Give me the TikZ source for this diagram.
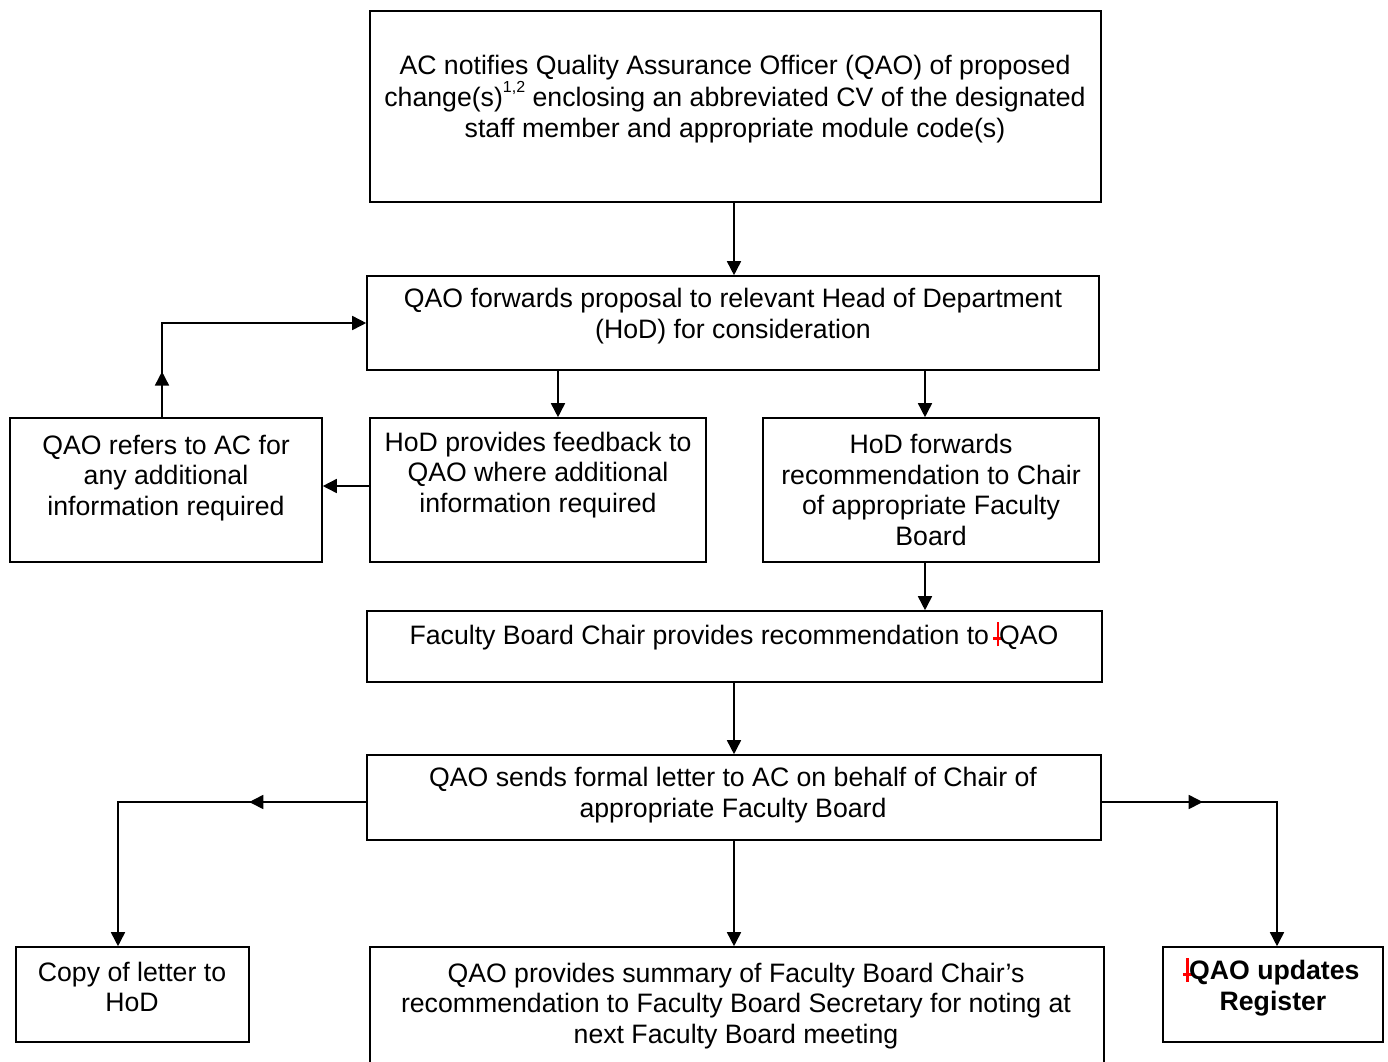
\documentclass[tikz,border=0pt]{standalone}
\usepackage{fontspec}
\setmainfont{Liberation Sans}
\usetikzlibrary{arrows.meta,fit,decorations.markings}
\newcommand{\chmark}{\textcolor{red}{\rlap{\hspace{-0.14em}\rule[0.3ex]{0.38em}{0.1em}}\rule[-0.15ex]{0.1em}{1.7ex}}}
\newcommand{\supnum}[1]{\raisebox{0.55em}{\fontsize{12pt}{12pt}\selectfont #1}}
\tikzset{
  box/.style={draw, line width=1.2pt, inner sep=0pt, rectangle},
  txt/.style={align=center, font=\fontsize{20pt}{23pt}\selectfont, inner sep=0pt, yshift=-1.5pt},
  line/.style={line width=1.2pt},
  arr/.style={line, -{Triangle[length=10.5pt,width=10.5pt]}},
  midarr/.style={postaction={decorate}, decoration={markings, mark=at position #1 with {\arrow{Triangle[length=10.5pt,width=10.5pt]}}}}
}
\begin{document}
\begin{tikzpicture}[x=0.75pt, y=-0.75pt]
\clip (0,0) rectangle (1388,1061);
\fill[white] (0,0) rectangle (1388,1061);
% boxes
\node[box, fit={(370,11) (1101,202)}] (b1) {};
\node[box, fit={(367,276) (1099,370)}] (b2) {};
\node[box, fit={(10,418) (322,562)}] (b3) {};
\node[box, fit={(370,418) (706,562)}] (b4) {};
\node[box, fit={(763,418) (1099,562)}] (b5) {};
\node[box, fit={(367,611) (1102,682)}] (b6) {};
\node[box, fit={(367,755) (1101,840)}] (b7) {};
\node[box, fit={(16,947) (249,1042)}] (b8) {};
\node[box, fit={(370,947) (1104,1080)}] (b9) {};
\node[box, fit={(1163,947) (1383,1042)}] (b10) {};
% texts
\node[txt] (t1) at (735,97) {AC notifies Quality Assurance Officer (QAO) of proposed\\change(s)\supnum{1,2} enclosing an abbreviated CV of the designated\\staff member and appropriate module code(s)};
\node[txt] (t2) at (733,314) {QAO forwards proposal to relevant Head of Department\\(HoD) for consideration};
\node[txt] (t3) at (166,476) {QAO refers to AC for\\any additional\\information required};
\node[txt] (t4) at (538,473) {HoD provides feedback to\\QAO where additional\\information required};
\node[txt] (t5) at (931,488) {HoD forwards\\recommendation to Chair\\of appropriate Faculty\\Board};
\node[txt] (t6) at (734,634) {Faculty Board Chair provides recommendation to \chmark QAO};
\node[txt] (t7) at (733,793) {QAO sends formal letter to AC on behalf of Chair of\\appropriate Faculty Board};
\node[txt] (t8) at (132,985) {Copy of letter to\\HoD};
\node[txt] (t9) at (736,1004) {QAO provides summary of Faculty Board Chair’s\\recommendation to Faculty Board Secretary for noting at\\next Faculty Board meeting};
\node[txt, font=\fontsize{20pt}{23pt}\selectfont\bfseries] (t10) at (1273,985) {\chmark QAO updates\\Register};
% junction coordinates
\coordinate (j1) at (162,323);
\coordinate (j2) at (118,802);
\coordinate (j3) at (1277,802);
\coordinate (c0) at (734,0);
\coordinate (c1) at (558,0);
\coordinate (c2) at (925,0);
% connectors
\draw[arr] (b1.south -| c0) -- (b2.north -| c0);
\draw[arr] (b2.south -| c1) -- (b4.north -| c1);
\draw[arr] (b2.south -| c2) -- (b5.north -| c2);
\draw[arr] (b4.west |- 0,486) -- (b3.east |- 0,486);
\draw[arr, midarr=0.153] (b3.north -| j1) -- (j1) -- (b2.west);
\draw[arr] (b5.south -| c2) -- (b6.north -| c2);
\draw[arr] (b6.south -| c0) -- (b7.north -| c0);
\draw[arr, midarr=0.298] (b7.west |- j2) -- (j2) -- (b8.north -| j2);
\draw[arr, midarr=0.316] (b7.east |- j3) -- (j3) -- (b10.north -| j3);
\draw[arr] (b7.south -| c0) -- (b9.north -| c0);
\end{tikzpicture}
\end{document}
